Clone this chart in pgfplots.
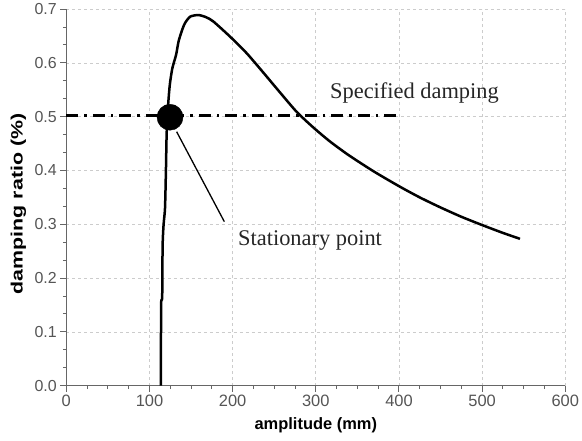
\documentclass[border=0pt]{standalone}
\usepackage{pgfplots}
\pgfplotsset{compat=1.18}
\usepackage{fontspec}
\setmainfont{Liberation Sans}
\newfontfamily\serifann{Liberation Serif}
\definecolor{axgray}{HTML}{666666}
\definecolor{lblgray}{HTML}{555555}
\definecolor{gridgray}{HTML}{CCCCCC}
\begin{document}
\begin{tikzpicture}
\begin{axis}[
  at={(0,0)}, anchor=south west,
  scale only axis,
  width=499bp, height=376.6bp,
  xmin=0, xmax=600, ymin=0, ymax=0.7,
  xtick={0,100,...,600},
  ytick={0,0.1,...,0.7},
  minor x tick num=3,
  minor y tick num=2,
  axis x line=bottom, axis y line=left,
  axis line style={-, axgray, line width=1.4bp},
  tick align=outside,
  major tick length=6bp, minor tick length=3.5bp,
  every tick/.style={axgray, line width=1bp},
  grid=major,
  major grid style={gridgray, dashed, line width=0.8bp},
  /pgf/number format/assume math mode=true,
  yticklabel style={/pgf/number format/fixed, /pgf/number format/precision=1, /pgf/number format/fixed zerofill, font=\fontsize{16}{18}\selectfont, text=lblgray},
  xticklabel style={font=\fontsize{16.5}{18}\selectfont, text=lblgray},
  xlabel={amplitude (mm)},
  xlabel style={font=\bfseries\fontsize{16.5}{19}\selectfont, at={(axis description cs:0.5,0)}, anchor=center, yshift=-40bp},
  clip=false,
]
% damping ratio curve
\addplot[black, line width=2.5bp, smooth, tension=0.4] coordinates {
(113.8,0.0)(114.0,0.15)(115.3,0.165)(115.8,0.26)(117.0,0.30)(118.7,0.33)(119.8,0.40)(120.7,0.47)(122.6,0.525)(124.5,0.56)(127.5,0.59)(132,0.615)(135,0.64)(139,0.66)(142.7,0.674)(149,0.686)(158.7,0.689)(168,0.685)(176.8,0.677)(196.8,0.649)(216.9,0.618)(236.9,0.582)(257,0.545)(277,0.509)(297,0.480)(317,0.454)(340,0.428)(370,0.398)(401,0.370)(425,0.350)(449,0.332)(475,0.314)(501,0.298)(525,0.284)(545.5,0.273)
};
% specified damping
\addplot[black, line width=2.4bp, dash pattern=on 12bp off 6bp on 2.5bp off 6bp] coordinates {(0,0.502)(396,0.502)};
% pointer line
\addplot[black, line width=1.3bp] coordinates {(132.7,0.472)(190,0.305)};
% stationary point
\addplot[only marks, mark=*, mark size=13bp, black] coordinates {(124.7,0.499)};
\node[anchor=base west, inner sep=0pt, font=\serifann\fontsize{22.5}{26}\selectfont, text=black!85] at (axis cs:317,0.534) {Specified damping};
\node[anchor=base west, inner sep=0pt, font=\serifann\fontsize{22.5}{26}\selectfont, text=black!85] at (axis cs:206.4,0.2615) {Stationary point};
\node[rotate=90, xscale=1.3, inner sep=0pt, font=\bfseries\fontsize{16.5}{19}\selectfont] at (axis cs:-57.5,0.338) {damping ratio (\%)};
\end{axis}
\pgfresetboundingbox
\path[use as bounding box] (-66.3bp,-55.3bp) rectangle (515.7bp,385.7bp);
\end{tikzpicture}
\end{document}
